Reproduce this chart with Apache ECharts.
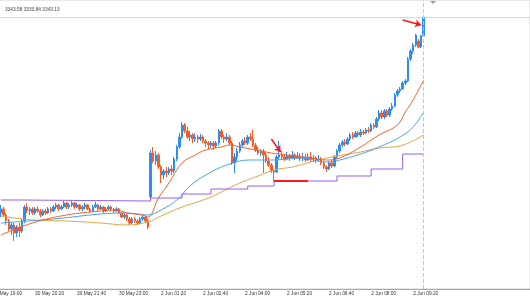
<!DOCTYPE html>
<html>
<head>
<meta charset="utf-8">
<script src="https://cdn.jsdelivr.net/npm/echarts@6/dist/echarts.min.js"></script>
<style>
  html, body { margin: 0; padding: 0; background: #fff; }
  #chart { width: 530px; height: 298px; }
</style>
</head>
<body>
<div id="chart"></div>
<script>
// XAUUSD M5, 30 May 19:15 -> 2 Jun 09:40 (weekend gap after 23:55)
var headerText = "3343.58 3330.84 3343.13";
var tickLabels = ["30 May 19:00", "30 May 20:20", "30 May 21:40", "30 May 23:00",
  "2 Jun 01:20", "2 Jun 02:40", "2 Jun 04:00", "2 Jun 05:20", "2 Jun 06:40",
  "2 Jun 08:00", "2 Jun 09:20"];
var firstBar = 3;      // 19:15 is the first bar drawn
var futureSlots = 40;  // empty space right of the last bar (chart shift)

// [open, close, low, high]
var bars = [
  [3295.0, 3296.0, 3294.0, 3297.0], [3296.0, 3294.5, 3294.0, 3296.5], [3294.5, 3293.0, 3292.0, 3295.0],
  [3293.0, 3291.0, 3290.5, 3293.5], [3291.0, 3292.0, 3289.5, 3292.5], [3292.0, 3290.0, 3288.0, 3292.5],
  [3290.0, 3291.5, 3289.0, 3292.0], [3291.5, 3290.5, 3289.0, 3292.5], [3290.5, 3293.0, 3290.0, 3293.5],
  [3293.0, 3296.5, 3292.5, 3297.0], [3296.5, 3295.5, 3295.0, 3297.5], [3295.5, 3296.0, 3294.5, 3296.5],
  [3296.0, 3295.0, 3294.5, 3296.5], [3295.0, 3296.0, 3294.5, 3296.5], [3296.0, 3295.5, 3295.0, 3296.75],
  [3295.5, 3294.5, 3294.0, 3296.0], [3294.5, 3295.5, 3294.25, 3296.0], [3295.5, 3295.0, 3294.5, 3296.0],
  [3295.0, 3296.0, 3294.75, 3296.5], [3296.0, 3295.5, 3295.0, 3296.5], [3295.5, 3296.5, 3295.25, 3297.0],
  [3296.5, 3297.0, 3296.0, 3297.5], [3297.0, 3296.0, 3295.5, 3297.25], [3296.0, 3296.5, 3295.75, 3297.0],
  [3296.5, 3297.5, 3296.25, 3298.0], [3297.5, 3296.5, 3296.0, 3297.75], [3296.5, 3297.0, 3296.0, 3297.5],
  [3297.0, 3297.5, 3296.5, 3298.0], [3297.5, 3296.5, 3296.0, 3297.75], [3296.5, 3297.0, 3296.25, 3297.5],
  [3297.0, 3296.0, 3295.5, 3297.25], [3296.0, 3296.5, 3295.5, 3297.0], [3296.5, 3297.0, 3296.0, 3297.5],
  [3297.0, 3296.0, 3295.75, 3297.25], [3296.0, 3295.5, 3295.0, 3296.25], [3295.5, 3296.5, 3295.25, 3297.0],
  [3296.5, 3297.0, 3296.25, 3297.75], [3297.0, 3296.0, 3295.5, 3297.25], [3296.0, 3296.5, 3295.75, 3297.0],
  [3296.5, 3295.5, 3295.0, 3296.75], [3295.5, 3296.0, 3295.25, 3296.5], [3296.0, 3296.5, 3295.75, 3297.0],
  [3296.5, 3296.0, 3295.5, 3296.75], [3296.0, 3295.5, 3295.0, 3296.25], [3295.5, 3296.0, 3295.25, 3296.5],
  [3296.0, 3295.0, 3294.75, 3296.25], [3295.0, 3294.0, 3293.75, 3295.25], [3294.0, 3294.5, 3293.5, 3295.0],
  [3294.5, 3293.5, 3293.0, 3294.75], [3293.5, 3292.5, 3292.0, 3294.0], [3292.5, 3293.5, 3292.25, 3294.0],
  [3293.5, 3293.0, 3292.5, 3294.0], [3293.0, 3292.5, 3292.0, 3293.5], [3292.5, 3293.5, 3292.25, 3294.0],
  [3293.5, 3294.0, 3293.0, 3294.5], [3294.0, 3293.0, 3292.5, 3294.25], [3293.0, 3291.5, 3291.0, 3293.5],
  // 2 Jun 01:00
  [3299.0, 3310.0, 3298.5, 3310.75], [3310.0, 3308.0, 3307.5, 3311.5], [3308.0, 3309.5, 3307.0, 3310.5],
  [3309.5, 3306.5, 3306.0, 3310.0], [3306.5, 3304.5, 3302.5, 3307.0], [3304.5, 3305.5, 3303.5, 3306.0],
  [3305.5, 3305.0, 3304.0, 3306.5], [3305.0, 3306.0, 3304.5, 3306.5], [3306.0, 3305.5, 3304.5, 3307.0],
  [3305.5, 3308.5, 3305.0, 3309.0], [3308.5, 3311.5, 3308.0, 3312.0], [3311.5, 3314.0, 3311.0, 3315.0],
  [3314.0, 3317.0, 3313.5, 3317.75], [3317.0, 3315.5, 3315.0, 3317.5], [3315.5, 3314.0, 3313.5, 3316.5],
  [3314.0, 3314.5, 3313.0, 3315.5], [3314.5, 3313.5, 3312.5, 3315.0], [3313.5, 3314.0, 3312.75, 3315.0],
  [3314.0, 3313.5, 3312.5, 3314.5], [3313.5, 3314.0, 3313.0, 3314.75], [3314.0, 3313.0, 3312.5, 3314.5],
  [3313.0, 3312.5, 3311.5, 3313.5], [3312.5, 3312.0, 3311.0, 3313.0], [3312.0, 3312.5, 3311.25, 3313.0],
  [3312.5, 3311.75, 3310.75, 3313.0], [3311.75, 3312.5, 3311.25, 3313.0], [3312.5, 3315.5, 3312.0, 3316.0],
  [3315.5, 3314.0, 3313.5, 3316.0], [3314.0, 3313.5, 3312.5, 3314.5], [3313.5, 3314.0, 3313.0, 3315.0],
  [3314.0, 3312.5, 3312.0, 3314.5], [3312.5, 3307.5, 3307.0, 3313.0], [3307.5, 3309.0, 3305.0, 3310.0],
  [3309.0, 3310.5, 3308.0, 3311.25], [3310.5, 3312.0, 3310.0, 3312.75], [3312.0, 3313.0, 3311.5, 3313.5],
  [3313.0, 3312.5, 3312.0, 3314.0], [3312.5, 3314.0, 3312.0, 3314.5], [3314.0, 3313.5, 3313.0, 3315.0],
  [3313.5, 3312.0, 3311.5, 3315.75], [3312.0, 3310.75, 3310.25, 3312.5], [3310.75, 3310.0, 3309.5, 3311.5],
  [3310.0, 3310.5, 3309.25, 3311.0], [3310.5, 3309.5, 3305.0, 3311.0], [3309.5, 3308.0, 3307.5, 3310.0],
  [3308.0, 3307.0, 3306.5, 3309.0], [3307.0, 3305.5, 3305.0, 3307.5], [3305.5, 3305.25, 3303.0, 3306.0],
  [3305.25, 3309.0, 3305.0, 3309.5], [3309.0, 3309.5, 3308.5, 3313.0], [3309.5, 3309.0, 3308.25, 3310.5],
  [3309.0, 3308.5, 3308.0, 3309.75], [3308.5, 3309.25, 3308.25, 3310.25], [3309.25, 3308.75, 3308.0, 3309.75],
  [3308.75, 3309.5, 3308.5, 3310.5], [3309.5, 3308.75, 3308.25, 3310.0], [3308.75, 3309.25, 3308.5, 3310.25],
  [3309.25, 3308.5, 3308.0, 3310.0], [3308.5, 3309.0, 3308.0, 3310.0], [3309.0, 3308.25, 3307.75, 3309.75],
  [3308.25, 3309.0, 3308.0, 3310.0], [3309.0, 3308.5, 3307.75, 3310.25], [3308.5, 3308.75, 3307.75, 3309.5],
  [3308.75, 3308.25, 3307.5, 3309.25], [3308.25, 3308.5, 3307.75, 3309.5], [3308.5, 3307.5, 3307.0, 3309.0],
  [3307.5, 3306.5, 3306.0, 3308.0], [3306.5, 3306.0, 3305.25, 3307.0], [3306.0, 3307.5, 3305.75, 3308.0],
  [3307.5, 3306.75, 3306.25, 3308.25], [3306.75, 3309.0, 3306.5, 3309.5], [3309.0, 3310.5, 3308.5, 3311.0],
  [3310.5, 3312.0, 3310.0, 3312.5], [3312.0, 3312.75, 3311.5, 3313.25], [3312.75, 3312.25, 3311.75, 3313.5],
  [3312.25, 3313.5, 3312.0, 3314.0], [3313.5, 3314.5, 3313.0, 3315.0], [3314.5, 3314.0, 3313.5, 3315.25],
  [3314.0, 3315.0, 3313.75, 3315.5], [3315.0, 3314.5, 3314.0, 3315.5], [3314.5, 3315.25, 3314.0, 3316.0],
  [3315.25, 3315.0, 3314.5, 3315.75], [3315.0, 3315.75, 3314.75, 3316.25], [3315.75, 3315.5, 3315.0, 3316.5],
  [3315.5, 3317.0, 3315.25, 3317.5], [3317.0, 3316.5, 3316.0, 3317.5], [3316.5, 3318.5, 3316.25, 3319.0],
  [3318.5, 3320.0, 3318.0, 3320.75], [3320.0, 3319.0, 3318.5, 3320.75], [3319.0, 3320.5, 3318.5, 3321.0],
  [3320.5, 3319.5, 3319.0, 3321.0], [3319.5, 3321.0, 3319.0, 3321.5], [3321.0, 3321.75, 3320.5, 3322.5],
  [3321.75, 3324.5, 3321.5, 3325.0], [3324.5, 3325.5, 3324.0, 3326.0], [3325.5, 3326.0, 3325.0, 3326.5],
  [3326.0, 3327.5, 3325.75, 3328.0], [3327.5, 3328.0, 3327.0, 3328.5], [3328.0, 3333.5, 3327.75, 3334.0],
  [3333.5, 3335.5, 3333.0, 3336.0], [3335.5, 3337.0, 3334.75, 3337.5], [3337.0, 3339.5, 3336.5, 3339.75],
  [3338.0, 3336.5, 3336.25, 3338.5], [3336.5, 3339.25, 3336.25, 3339.5], [3339.25, 3344.0, 3339.0, 3344.0]
];

// moving averages: [bar index, price]
var maFast = [[3, 3289.5], [15, 3292.5], [28, 3294.5], [41, 3295.5], [47, 3295.75], [51, 3295.0],
  [57, 3294.5], [59, 3294.0], [63, 3298.75], [67, 3302.5], [72, 3307.5], [77, 3309.5], [81, 3310.75],
  [87, 3311.5], [90, 3312.0], [94, 3311.5], [100, 3310.75], [106, 3310.0], [112, 3309.5], [121, 3308.75],
  [127, 3308.25], [132, 3308.75], [140, 3311.5], [147, 3314.5], [154, 3317.0], [157, 3320.25],
  [160, 3323.25], [164, 3328.25]];
var maMid = [[3, 3292.5], [23, 3293.5], [41, 3294.75], [51, 3295.0], [59, 3294.5], [64, 3295.75],
  [70, 3298.25], [75, 3301.75], [81, 3304.5], [90, 3307.25], [98, 3308.25], [107, 3308.25],
  [117, 3308.75], [127, 3307.75], [132, 3308.25], [140, 3309.75], [147, 3311.5], [155, 3314.0],
  [160, 3316.5], [164, 3320.25]];
var maSlow = [[3, 3294.25], [15, 3293.25], [28, 3293.0], [41, 3292.5], [51, 3292.0], [59, 3292.75],
  [64, 3294.25], [71, 3296.25], [80, 3298.25], [83, 3299.0], [94, 3302.5], [102, 3304.5],
  [107, 3305.75], [114, 3306.5], [117, 3307.0], [127, 3308.75], [140, 3310.25], [147, 3311.25],
  [155, 3311.75], [164, 3314.5]];

// trailing stop steps
var stopLevels = [[3, 3298.25], [11, 3298.0], [60, 3298.75], [72, 3299.75], [83, 3301.0], [97, 3301.75],
  [107, 3303.0], [120, 3303.0], [131, 3304.25], [144, 3306.0], [156, 3309.75], [164, 3309.75]];
var stopRed = [[107, 3303.0], [120, 3303.0]];

var arrows = [
  [[106, 3313.5], [109.5, 3310.25]],
  [[156, 3343.25], [163, 3342.0]]
];
var lastBar = 164;
var topLevel = 3344.0;

function hhmm(m) {
  var h = Math.floor(m / 60), mm = m % 60;
  return (h < 10 ? "0" : "") + h + ":" + (mm < 10 ? "0" : "") + mm;
}
var times = [];
for (var m = 19 * 60; m < 24 * 60; m += 5) times.push("30 May " + hhmm(m));
for (var m2 = 60; m2 <= 9 * 60 + 40; m2 += 5) times.push("2 Jun " + hhmm(m2));
for (var k = 0; k < futureSlots; k++) times.push("");

var candleData = [];
for (var i = 0; i < firstBar; i++) candleData.push(["-", "-", "-", "-"]);
candleData = candleData.concat(bars);

var showTick = function (idx, value) {
  return tickLabels.indexOf(value) >= 0;
};

var chart = echarts.init(document.getElementById("chart"), null, { renderer: "canvas" });
var option = {
  animation: false,
  backgroundColor: "#ffffff",
  title: {
    text: headerText,
    left: 0,
    top: 2,
    textStyle: { fontSize: 4.8, fontWeight: "normal", color: "#444", fontFamily: "Liberation Sans" }
  },
  grid: {
    left: -8.3, right: 0, top: 0, bottom: 9,
    outerBoundsMode: "none",
    containLabel: false,
    show: true, borderColor: "#d0d0d0", borderWidth: 1
  },
  xAxis: [
    {
      type: "category",
      data: times,
      boundaryGap: true,
      axisLine: { lineStyle: { color: "#a8a8a8", width: 1 } },
      axisTick: { alignWithLabel: true, interval: showTick, length: 2, lineStyle: { color: "#777" } },
      axisLabel: {
        interval: showTick, align: "left", margin: 2,
        fontSize: 4.8, color: "#333", fontFamily: "Liberation Sans"
      },
      splitLine: { show: false }
    },
    { type: "value", min: -0.5, max: times.length - 0.5, show: false }
  ],
  yAxis: { type: "value", min: 3276, max: 3348.25, show: false, splitLine: { show: false } },
  series: [
    {
      type: "candlestick",
      data: candleData,
      barWidth: 2,
      itemStyle: {
        color: "#2b8ef2", color0: "#fb5a22",
        borderColor: "#2b8ef2", borderColor0: "#fb5a22", borderWidth: 1
      }
    },
    {
      type: "line", xAxisIndex: 1, data: maSlow, smooth: 0.4, showSymbol: false,
      lineStyle: { color: "#e4a445", width: 1 }
    },
    {
      type: "line", xAxisIndex: 1, data: maMid, smooth: 0.4, showSymbol: false,
      lineStyle: { color: "#4aa3f4", width: 1 }
    },
    {
      type: "line", xAxisIndex: 1, data: maFast, smooth: 0.4, showSymbol: false,
      lineStyle: { color: "#f4602a", width: 1 }
    },
    {
      type: "line", xAxisIndex: 1, data: stopLevels, step: "end", showSymbol: false,
      lineStyle: { color: "#9d5de8", width: 1 },
      markLine: {
        silent: true, symbol: "none", label: { show: false },
        data: [
          { xAxis: lastBar, lineStyle: { color: "#c4c4c4", type: [4, 2], width: 1 } },
          { yAxis: topLevel, lineStyle: { color: "#d6d6d6", type: "solid", width: 1 } }
        ]
      }
    },
    {
      type: "line", xAxisIndex: 1, data: stopRed, showSymbol: false,
      lineStyle: { color: "#ff1a1a", width: 2 }
    },
    {
      type: "lines", coordinateSystem: "cartesian2d", xAxisIndex: 1,
      data: arrows.map(function (a) { return { coords: a }; }),
      symbol: ["none", "arrow"], symbolSize: 6,
      lineStyle: { color: "#ff1414", width: 1.5, opacity: 1 },
      z: 10
    }
  ],
  graphic: [
    { type: "polygon", shape: { points: [[430, 1], [436, 1], [433, 4]] }, style: { fill: "#a0a0a0" } }
  ]
};
chart.setOption(option);
</script>
</body>
</html>
